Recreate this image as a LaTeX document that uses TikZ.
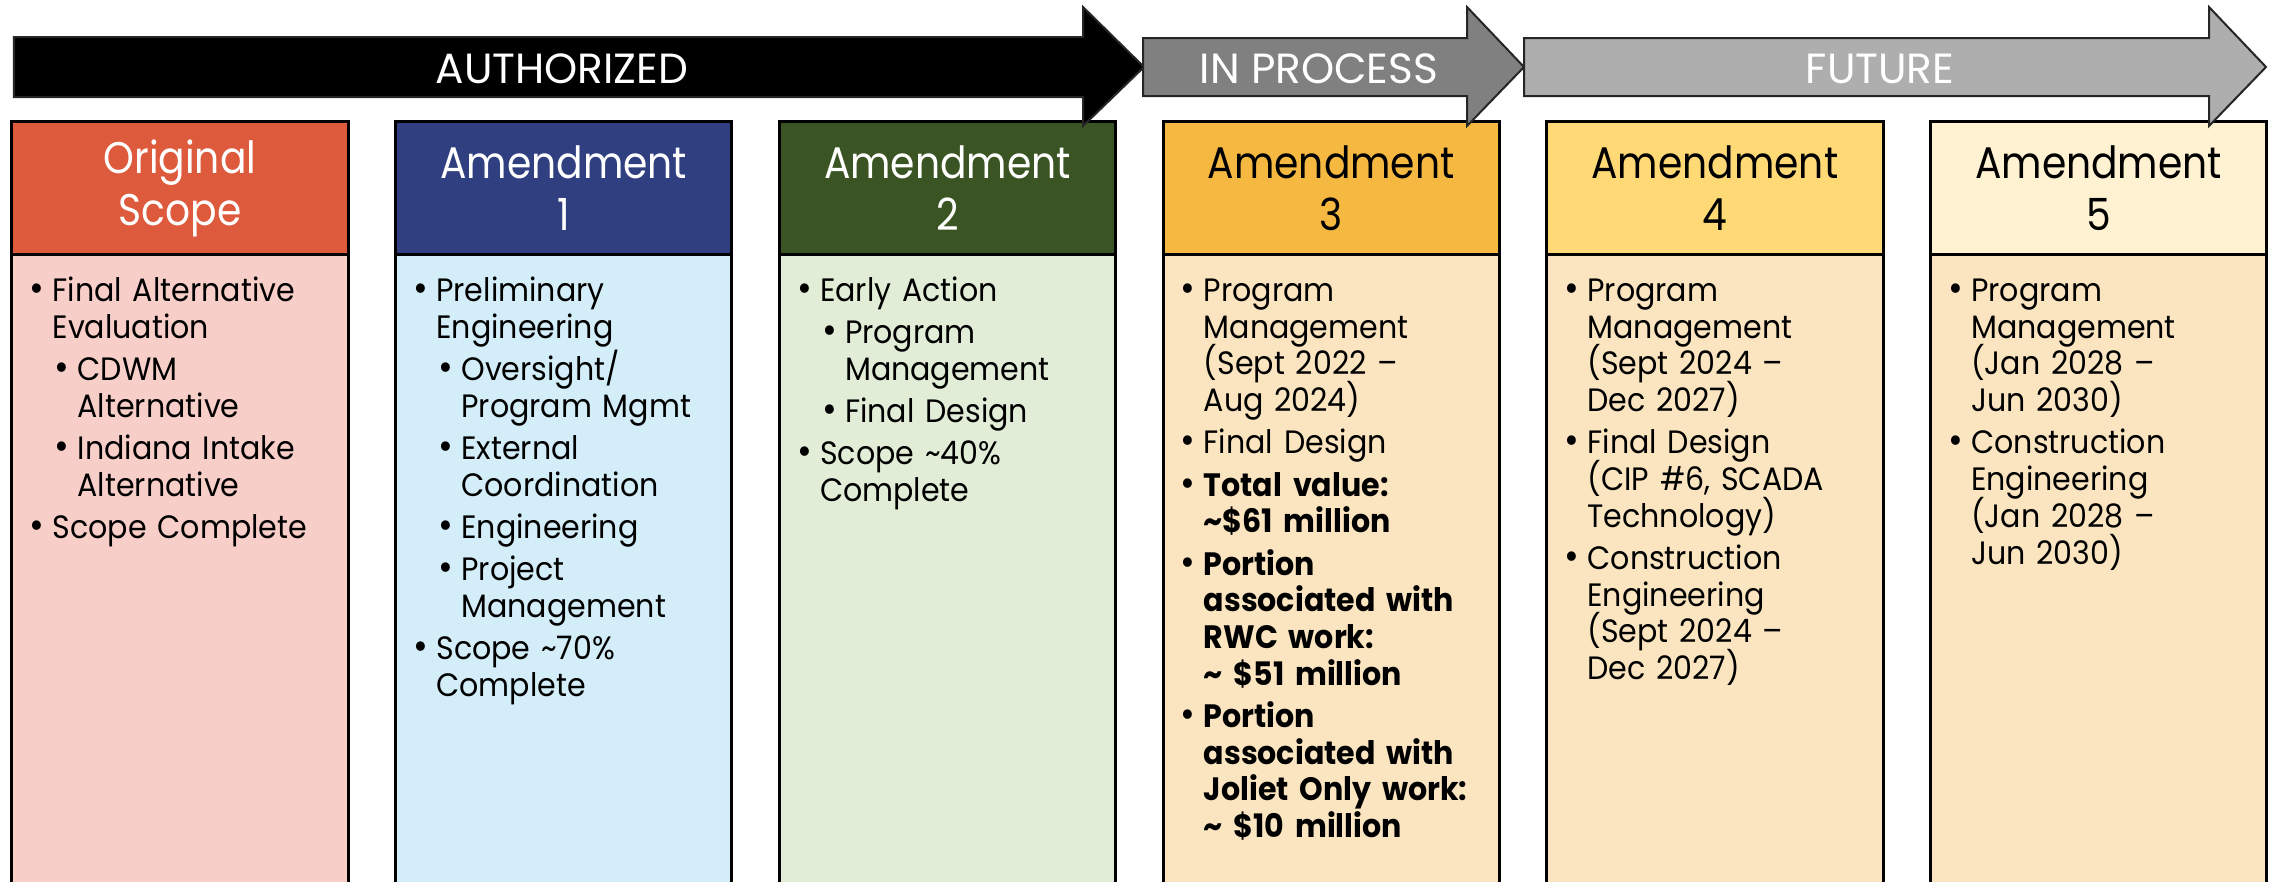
\documentclass[tikz,border=0pt]{standalone}
\usepackage{fontspec}
\setmainfont{Poppins}
\newfontfamily\headfont[FakeStretch=0.885]{Poppins}
\newfontfamily\bodyfont[FakeStretch=0.93]{Poppins}
\usetikzlibrary{positioning}

\definecolor{origHead}{HTML}{DE5A3C}
\definecolor{origBody}{HTML}{F8CEC8}
\definecolor{amOneHead}{HTML}{303F80}
\definecolor{amOneBody}{HTML}{D3EEF8}
\definecolor{amTwoHead}{HTML}{3A5523}
\definecolor{amTwoBody}{HTML}{E2EDD8}
\definecolor{amThreeHead}{HTML}{F5B840}
\definecolor{amFourHead}{HTML}{FED975}
\definecolor{amFiveHead}{HTML}{FFF2D2}
\definecolor{lateBody}{HTML}{FAE5C0}
\definecolor{procGray}{HTML}{808080}
\definecolor{futGray}{HTML}{AEAEAE}

\newcommand{\dotmark}{{\fontsize{11pt}{0pt}\selectfont\textbullet}}
\newcommand{\itemA}[1]{\par\lineskiplimit=-10cm\lineskip=0pt\vskip0.055cm
  \noindent\hangindent=0.40cm\hangafter=1%
  \makebox[0.40cm][l]{\hspace{0.17cm}\dotmark}\rule{0pt}{0.28cm}#1}
\newcommand{\itemB}[1]{\par\lineskiplimit=-10cm\lineskip=0pt\vskip0.055cm
  \noindent\hangindent=0.65cm\hangafter=1%
  \makebox[0.65cm][l]{\hspace{0.42cm}\dotmark}\rule{0pt}{0.28cm}#1}

\tikzset{
  head/.style={draw, line width=0.03cm, outer sep=0pt, minimum width=3.36cm,
    minimum height=1.32cm, align=center,
    font=\headfont\fontsize{12.6pt}{0.52cm}\selectfont},
  bodybox/.style={draw, line width=0.03cm, outer sep=0pt, minimum width=3.36cm,
    minimum height=6.4cm, below=0pt of #1},
  bodytext/.style={anchor=north west, inner sep=0pt, text width=3.6cm,
    font=\bodyfont\fontsize{9.2pt}{0.367cm}\selectfont},
  phase/.style={draw=black!85, line width=0.02cm},
  phaselabel/.style={text=white, font=\fontsize{12pt}{14pt}\selectfont},
}

\begin{document}
\begin{tikzpicture}[x=0.01cm, y=-0.01cm]
\useasboundingbox (0,0) rectangle (2275,881);

% header boxes
\node[head, fill=origHead, text=white] (h1) at (180,188) {Original\\Scope};
\node[head, fill=amOneHead, text=white, right=0.475cm of h1] (h2) {Amendment\\1};
\node[head, fill=amTwoHead, text=white, right=0.475cm of h2] (h3) {Amendment\\2};
\node[head, fill=amThreeHead, right=0.475cm of h3] (h4) {Amendment\\3};
\node[head, fill=amFourHead, right=0.475cm of h4] (h5) {Amendment\\4};
\node[head, fill=amFiveHead, right=0.475cm of h5] (h6) {Amendment\\5};

% bodies
\node[bodybox=h1, fill=origBody] (b1) {};
\node[bodybox=h2, fill=amOneBody] (b2) {};
\node[bodybox=h3, fill=amTwoBody] (b3) {};
\node[bodybox=h4, fill=lateBody] (b4) {};
\node[bodybox=h5, fill=lateBody] (b5) {};
\node[bodybox=h6, fill=lateBody] (b6) {};

\node[bodytext] (t1) at ([yshift=-0.045cm]b1.north west) {%
  \itemA{Final Alternative\newline Evaluation}
  \itemB{CDWM\newline Alternative}
  \itemB{Indiana Intake\newline Alternative}
  \itemA{Scope Complete}\par};
\node[bodytext] (t2) at ([yshift=-0.045cm]b2.north west) {%
  \itemA{Preliminary\newline Engineering}
  \itemB{Oversight/\newline Program Mgmt}
  \itemB{External\newline Coordination}
  \itemB{Engineering}
  \itemB{Project\newline Management}
  \itemA{Scope \textasciitilde70\%\newline Complete}\par};
\node[bodytext] (t3) at ([yshift=-0.045cm]b3.north west) {%
  \itemA{Early Action}
  \itemB{Program\newline Management}
  \itemB{Final Design}
  \itemA{Scope \textasciitilde40\%\newline Complete}\par};
\node[bodytext] (t4) at ([yshift=-0.045cm]b4.north west) {%
  \itemA{Program\newline Management\newline (Sept 2022 –\newline Aug 2024)}
  \itemA{Final Design}
  \itemA{\textbf{Total value:\newline \textasciitilde\$61 million}}
  \itemA{\textbf{Portion\newline associated with\newline RWC work:\newline \textasciitilde{} \$51 million}}
  \itemA{\textbf{Portion\newline associated with\newline Joliet Only work:\newline \textasciitilde{} \$10 million}}\par};
\node[bodytext] (t5) at ([yshift=-0.045cm]b5.north west) {%
  \itemA{Program\newline Management\newline (Sept 2024 –\newline Dec 2027)}
  \itemA{Final Design\newline (CIP \#6, SCADA\newline Technology)}
  \itemA{Construction\newline Engineering\newline (Sept 2024 –\newline Dec 2027)}\par};
\node[bodytext] (t6) at ([yshift=-0.045cm]b6.north west) {%
  \itemA{Program\newline Management\newline (Jan 2028 –\newline Jun 2030)}
  \itemA{Construction\newline Engineering\newline (Jan 2028 –\newline Jun 2030)}\par};

% phase arrows
\draw[phase, fill=black] (14,37) -- (1083,37) -- (1083,7) -- (1144,67)
  -- (1083,126) -- (1083,97) -- (14,97) -- cycle;
\draw[phase, fill=procGray] (1143,38) -- (1467,38) -- (1467,7) -- (1524,67)
  -- (1467,126) -- (1467,96) -- (1143,96) -- cycle;
\draw[phase, fill=futGray] (1524,38) -- (2209,38) -- (2209,7) -- (2266,67)
  -- (2209,126) -- (2209,96) -- (1524,96) -- cycle;
\node[phaselabel] (auth) at (562,69) {AUTHORIZED};
\node[phaselabel] (proc) at (1319,69) {IN PROCESS};
\node[phaselabel] (fut) at (1880,69) {FUTURE};
\end{tikzpicture}
\end{document}
